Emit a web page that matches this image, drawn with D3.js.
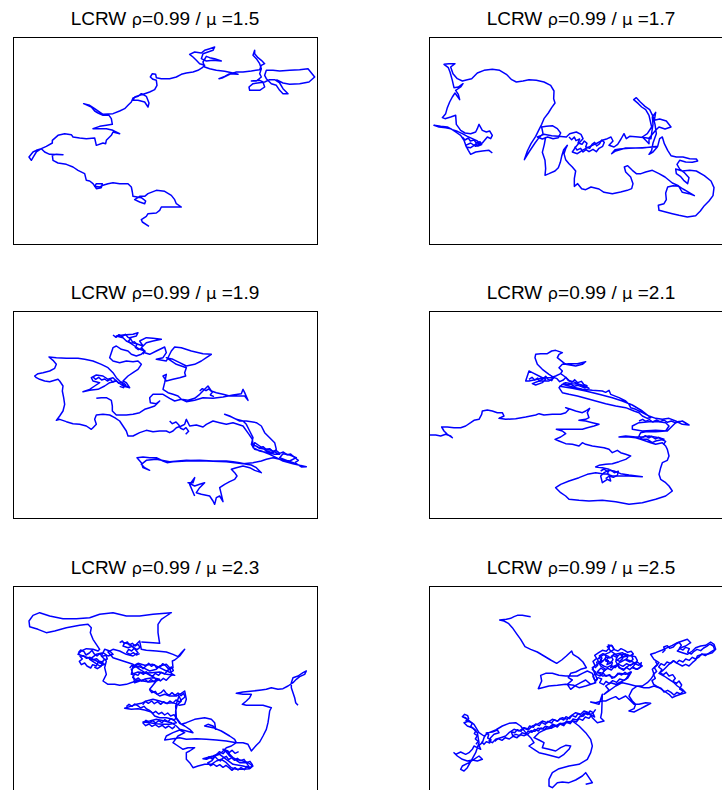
<!DOCTYPE html>
<html>
<head>
<meta charset="utf-8">
<script src="https://cdn.jsdelivr.net/npm/d3@7"></script>
<style>
  body { margin: 0; background: #fff; }
  svg { display: block; }
</style>
</head>
<body>
<svg id="chart" width="722" height="790"></svg>
<script>
// LCRW traces (units: 1/3 px inside each panel box)
const rho = 0.99;
const mus = [1.5, 1.7, 1.9, 2.1, 2.3, 2.5];

const walk15 = [[408,568],[388,555],[385,548],[400,538],[405,530],[430,528],[440,520],[445,510],[465,510],[505,510],[490,500],[485,488],[475,475],[455,463],[430,460],[405,470],[395,478],[380,478],[365,488],[380,495],[395,500],[398,492],[385,482],[360,478],[358,465],[355,450],[345,440],[320,440],[300,437],[285,440],[270,445],[260,450],[245,448],[250,440],[268,440],[265,452],[250,455],[240,440],[230,432],[220,430],[215,410],[195,400],[180,390],[160,382],[135,378],[120,370],[118,355],[130,352],[150,353],[110,352],[95,345],[85,335],[70,340],[60,345],[48,360],[55,370],[62,358],[70,345],[85,335],[100,328],[118,318],[118,310],[135,295],[155,290],[175,293],[180,300],[200,303],[220,305],[245,303],[250,325],[270,318],[278,320],[280,310],[295,295],[300,285],[320,290],[300,280],[280,275],[262,275],[240,275],[260,268],[280,265],[298,262],[295,245],[288,235],[270,235],[255,228],[245,222],[235,210],[212,200],[230,205],[245,215],[270,232],[300,230],[320,222],[335,215],[345,205],[355,195],[360,183],[375,178],[385,170],[400,178],[408,198],[405,210],[395,195],[375,190],[360,190],[365,180],[380,175],[395,170],[410,165],[425,158],[432,145],[430,130],[420,127],[412,120],[418,110],[428,112],[430,122],[445,125],[470,125],[490,120],[505,112],[520,108],[540,105],[555,100],[568,92],[575,85],[560,80],[550,70],[540,60],[530,52],[545,45],[565,48],[575,40],[590,35],[605,30],[600,40],[585,45],[570,50],[565,65],[580,72],[600,70],[625,72],[605,65],[590,62],[580,58],[570,75],[575,90],[590,95],[610,100],[635,103],[660,108],[675,112],[650,110],[635,118],[618,125],[630,122],[650,112],[670,105],[690,105],[715,102],[740,98],[745,85],[755,80],[745,70],[735,62],[725,50],[725,40],[720,55],[730,65],[740,80],[745,95],[740,110],[745,120],[730,132],[715,132],[740,130],[750,135],[755,150],[740,160],[710,160],[708,150],[720,140],[755,135],[770,128],[785,128],[800,138],[810,155],[825,170],[810,170],[800,160],[790,145],[775,140],[760,125],[755,115],[760,100],[780,100],[800,102],[830,100],[860,98],[885,95],[905,120],[888,135],[860,140],[830,142],[810,138],[790,128]];

const walk17 = [[190,348],[180,340],[160,342],[140,345],[125,352],[118,340],[110,325],[125,318],[140,328],[155,322],[145,312],[130,305],[115,298],[100,290],[85,283],[70,278],[55,270],[35,268],[15,265],[30,270],[50,272],[65,275],[80,285],[95,295],[105,310],[112,330],[125,332],[140,322],[160,318],[175,300],[185,305],[190,295],[182,282],[172,285],[160,280],[150,262],[145,275],[140,285],[125,290],[108,288],[95,280],[82,262],[80,235],[65,240],[48,245],[40,242],[50,230],[55,212],[62,195],[70,180],[78,168],[92,188],[88,172],[80,160],[95,150],[102,140],[88,150],[75,152],[70,130],[63,105],[58,92],[45,82],[60,80],[78,80],[65,90],[72,110],[85,125],[100,132],[115,128],[128,125],[145,108],[165,100],[190,97],[212,100],[232,112],[248,128],[262,135],[282,132],[300,128],[322,130],[345,135],[365,145],[375,162],[374,185],[378,198],[368,212],[358,228],[345,245],[338,262],[330,278],[320,298],[306,320],[295,342],[286,368],[300,345],[318,318],[330,302],[342,290],[338,270],[352,268],[370,266],[385,275],[395,288],[388,302],[372,305],[356,300],[340,306],[325,300],[345,292],[368,296],[388,298],[412,300],[422,290],[442,285],[456,292],[462,305],[450,318],[440,330],[430,345],[445,350],[460,340],[475,332],[490,325],[505,318],[520,310],[535,305],[546,300],[552,312],[540,325],[555,330],[566,322],[576,306],[585,290],[592,305],[602,298],[628,300],[650,302],[666,305],[668,288],[672,262],[670,240],[680,226],[676,250],[692,246],[712,252],[726,270],[708,276],[690,270],[680,280],[670,292],[660,304],[660,320],[650,310],[640,300],[655,290],[668,270],[660,235],[650,218],[638,210],[628,200],[614,188],[622,182],[634,195],[648,208],[662,218],[672,238],[678,262],[682,290],[672,318],[668,340],[660,352],[672,345],[685,330],[672,330],[640,332],[600,334],[572,336],[558,338],[548,350],[560,342],[590,333],[640,333],[686,328],[692,305],[700,300],[706,320],[716,340],[726,356],[742,360],[762,360],[782,365],[802,366],[806,372],[790,376],[770,375],[752,370],[744,382],[752,396],[765,406],[780,422],[776,440],[764,430],[754,418],[742,410],[740,396],[760,402],[782,400],[802,402],[826,416],[846,432],[855,452],[852,476],[840,492],[826,506],[814,522],[800,536],[775,540],[750,535],[730,530],[710,525],[690,520],[688,505],[705,500],[712,488],[710,468],[716,450],[732,446],[750,448],[762,456],[776,464],[796,476],[780,470],[760,466],[748,446],[730,438],[708,420],[690,410],[670,400],[650,405],[636,410],[622,410],[610,400],[596,386],[586,390],[590,405],[605,420],[612,440],[608,455],[595,460],[575,465],[550,470],[525,466],[510,456],[486,450],[470,458],[458,455],[446,440],[436,448],[436,425],[440,402],[430,390],[420,380],[410,368],[405,350],[410,335],[415,325],[404,338],[398,358],[394,376],[388,392],[378,402],[360,410],[348,415],[350,395],[348,370],[340,346],[346,322],[350,300]];

const walk19 = [[545,555],[530,520],[545,500],[540,515],[525,515],[545,525],[560,520],[575,515],[560,530],[550,545],[565,550],[590,555],[600,570],[605,580],[610,560],[620,555],[630,572],[625,550],[620,530],[635,520],[650,512],[665,505],[672,495],[665,485],[655,475],[670,470],[690,465],[710,470],[725,478],[745,485],[730,470],[715,462],[700,460],[680,455],[660,452],[640,450],[600,450],[560,448],[520,450],[480,452],[462,455],[450,450],[430,440],[410,440],[390,438],[372,440],[385,455],[390,470],[410,478],[395,470],[385,460],[400,448],[430,445],[470,452],[520,448],[580,450],[640,452],[690,458],[720,455],[745,450],[760,445],[780,440],[800,445],[830,450],[850,440],[830,432],[810,428],[800,440],[825,450],[850,458],[865,468],[880,467],[860,463],[840,458],[810,450],[790,440],[770,430],[745,420],[725,415],[715,400],[720,380],[710,360],[700,340],[690,330],[670,325],[650,315],[635,310],[660,320],[680,330],[700,330],[730,335],[745,345],[755,365],[770,380],[785,395],[790,415],[780,425],[760,420],[740,405],[725,395],[720,410],[740,420],[765,425],[785,430],[800,430],[775,418],[740,412],[720,400],[718,385],[708,370],[690,345],[660,335],[640,340],[620,335],[600,330],[580,340],[570,348],[550,342],[530,345],[520,325],[515,340],[505,345],[490,350],[480,360],[470,365],[460,360],[440,360],[420,362],[400,358],[380,365],[360,375],[345,375],[340,360],[330,345],[320,330],[305,320],[290,312],[270,310],[250,312],[245,325],[250,340],[240,350],[235,355],[220,345],[200,340],[180,338],[160,332],[140,325],[130,328],[140,315],[150,300],[155,280],[152,260],[148,240],[150,225],[140,210],[135,205],[110,212],[95,210],[80,205],[70,200],[65,195],[75,188],[90,185],[110,180],[125,172],[130,160],[120,148],[108,138],[130,140],[160,142],[195,142],[215,145],[240,150],[265,160],[285,170],[300,185],[310,200],[320,210],[330,220],[345,228],[330,225],[310,210],[300,200],[285,205],[270,195],[250,192],[235,200],[240,210],[260,215],[245,225],[230,235],[210,242],[230,238],[255,235],[275,225],[290,215],[310,210],[330,225],[350,230],[340,215],[330,210],[345,195],[360,185],[375,175],[385,160],[375,150],[360,152],[340,150],[320,155],[300,150],[290,140],[295,125],[300,110],[310,105],[325,115],[345,120],[355,130],[370,135],[385,130],[395,120],[380,115],[365,105],[350,95],[340,90],[330,80],[310,75],[330,72],[360,70],[375,65],[370,75],[350,80],[360,95],[375,100],[390,105],[380,90],[400,80],[420,82],[445,85],[420,90],[400,95],[385,110],[395,125],[410,130],[430,120],[455,108],[460,125],[450,140],[430,145],[460,150],[475,120],[485,108],[505,110],[535,120],[570,128],[595,130],[580,140],[565,150],[545,160],[520,165],[500,155],[480,145],[460,140],[490,160],[520,170],[515,185],[518,195],[500,200],[480,205],[460,210],[450,195],[460,190],[455,215],[450,235],[465,245],[480,250],[495,255],[505,265],[525,268],[545,262],[560,250],[575,235],[585,225],[595,240],[610,245],[630,250],[650,255],[670,255],[695,255],[705,268],[695,245],[690,235],[685,248],[660,252],[630,258],[600,262],[570,260],[545,268],[520,272],[505,265],[485,270],[470,262],[450,250],[420,250],[410,260],[412,275],[430,278],[440,270],[425,285],[410,290],[395,295],[380,305],[360,310],[340,312],[310,312],[298,300],[298,285],[295,268],[280,260],[265,260],[250,262]];

const walk21 = [[0,372],[20,372],[35,375],[50,370],[65,375],[70,380],[55,370],[45,360],[38,348],[55,348],[75,350],[95,350],[110,345],[125,335],[135,328],[150,325],[158,310],[160,300],[175,297],[190,300],[205,305],[220,305],[225,315],[210,322],[230,325],[260,323],[290,318],[320,312],[330,308],[345,312],[370,310],[395,310],[410,305],[420,295],[410,290],[425,295],[440,300],[460,305],[470,300],[482,292],[475,305],[480,320],[470,325],[450,328],[470,330],[490,335],[510,340],[495,345],[475,350],[460,355],[440,355],[420,355],[400,355],[382,355],[400,360],[410,368],[395,378],[378,385],[390,390],[410,398],[430,400],[450,405],[460,395],[470,400],[490,405],[510,408],[525,410],[540,415],[550,425],[565,418],[575,425],[590,430],[605,435],[590,445],[570,452],[550,458],[530,460],[510,463],[500,468],[520,470],[540,475],[535,490],[550,495],[570,495],[600,495],[640,497],[600,492],[575,488],[555,480],[540,478],[525,485],[515,495],[520,515],[535,505],[545,510],[540,490],[520,488],[500,485],[475,490],[450,500],[420,510],[395,520],[380,530],[395,545],[410,555],[420,565],[450,568],[480,570],[520,568],[560,572],[600,580],[640,575],[680,565],[710,555],[730,540],[720,525],[710,515],[695,505],[690,490],[695,470],[700,455],[715,448],[720,435],[715,415],[710,405],[700,395],[680,400],[665,395],[650,390],[635,385],[620,380],[600,378],[570,378],[590,375],[620,378],[640,378],[660,375],[690,380],[705,385],[680,390],[670,395],[655,385],[640,385],[630,375],[635,365],[650,362],[680,362],[710,360],[720,345],[710,335],[690,332],[660,332],[630,335],[610,345],[610,355],[640,360],[680,358],[715,360],[730,345],[740,335],[760,330],[780,342],[760,340],[740,330],[720,322],[700,325],[680,322],[660,315],[650,310],[640,305],[620,295],[605,290],[600,280],[590,270],[570,260],[545,250],[540,238],[530,244],[520,240],[490,238],[460,235],[440,230],[420,225],[400,220],[390,230],[400,245],[420,250],[445,255],[470,262],[500,270],[530,278],[560,285],[590,290],[615,300],[630,305],[640,315],[655,322],[665,320],[640,300],[610,282],[580,270],[550,260],[510,250],[470,240],[430,232],[392,226],[410,215],[430,218],[450,220],[470,225],[480,232],[460,225],[440,215],[420,208],[405,195],[395,188],[380,195],[365,200],[345,200],[325,205],[300,210],[290,210],[295,195],[300,180],[310,185],[330,195],[350,205],[340,215],[320,222],[310,218],[330,210],[360,210],[375,200],[360,190],[340,175],[325,160],[318,140],[320,130],[335,128],[355,128],[368,120],[380,118],[400,125],[390,130],[385,140],[395,148],[410,160],[440,165],[460,160],[470,152],[445,158],[420,158],[400,160],[390,170],[400,180],[395,188]];

const walk23 = [[385,168],[420,170],[440,172],[438,160],[435,140],[435,115],[445,100],[460,90],[475,80],[420,85],[380,90],[340,90],[300,80],[260,85],[230,95],[190,98],[150,98],[110,90],[80,80],[60,88],[48,105],[50,122],[75,130],[100,140],[125,135],[160,125],[200,118],[225,115],[235,125],[232,140],[240,160],[250,175],[260,190],[255,195],[240,190],[220,188],[205,195],[195,205],[210,210],[225,215],[245,222],[260,230],[275,235],[260,240],[245,230],[230,220],[250,205],[270,200],[285,210],[300,205],[290,195],[275,190],[265,210],[280,225],[275,245],[280,265],[270,285],[285,295],[305,295],[320,298],[340,295],[360,288],[375,282],[390,285],[410,288],[430,285],[440,280],[420,275],[400,278],[380,285],[365,290],[360,265],[355,250],[370,240],[390,245],[410,255],[430,250],[440,240],[460,235],[470,245],[475,262],[485,268],[460,265],[440,258],[415,260],[395,262],[375,258],[355,265],[360,240],[375,232],[395,238],[420,235],[440,245],[460,255],[480,245],[478,225],[485,222],[500,210],[515,190],[505,200],[495,212],[480,205],[460,198],[430,195],[400,193],[385,190],[380,165],[370,175],[360,180],[345,185],[330,180],[335,170],[350,175],[365,188],[375,200],[360,210],[340,205],[320,195],[300,190],[285,198],[300,215],[330,225],[360,235],[380,250],[400,262],[425,275],[430,285],[410,310],[425,320],[440,330],[455,325],[470,330],[490,330],[505,322],[515,315],[520,340],[515,355],[500,358],[480,350],[460,352],[440,345],[420,340],[400,345],[385,352],[370,355],[350,362],[335,367],[355,370],[375,368],[395,372],[415,378],[425,390],[440,395],[460,395],[480,400],[490,410],[470,415],[450,415],[430,413],[410,410],[390,408],[410,405],[430,400],[455,405],[475,410],[490,420],[500,430],[520,435],[540,440],[530,430],[515,420],[500,412],[488,395],[488,375],[492,358],[505,345],[498,330],[488,360],[490,395],[505,415],[520,410],[545,400],[575,395],[595,400],[605,410],[608,430],[600,420],[585,415],[575,420],[600,425],[625,435],[650,450],[665,460],[670,470],[640,465],[610,462],[580,460],[550,458],[520,460],[500,455],[470,460],[455,462],[460,450],[480,440],[500,432],[515,440],[495,450],[480,470],[495,480],[510,490],[525,485],[545,485],[530,495],[520,500],[520,520],[530,530],[540,545],[555,540],[575,535],[595,535],[610,525],[625,520],[640,530],[655,545],[670,550],[690,550],[710,548],[720,540],[705,530],[690,525],[670,520],[650,510],[640,498],[630,490],[645,495],[650,505],[665,520],[680,530],[700,530],[710,545],[690,540],[660,535],[640,520],[620,505],[600,512],[580,520],[570,518],[600,510],[625,500],[640,485],[655,480],[670,470],[690,470],[705,475],[710,485],[715,495],[730,478],[740,468],[750,450],[760,430],[765,410],[768,390],[770,375],[775,365],[750,358],[720,358],[700,358],[688,355],[700,345],[710,335],[715,325],[690,325],[670,322],[690,318],[720,315],[745,312],[760,310],[775,305],[795,310],[810,308],[825,300],[840,290],[850,280],[860,272],[875,265],[880,255],[870,260],[855,270],[840,275],[835,290],[835,305],[840,320],[845,335],[848,350],[855,358]];

const walk25 = [[305,92],[292,90],[280,88],[265,88],[255,92],[245,97],[232,100],[212,102],[225,105],[238,112],[250,125],[262,142],[275,160],[288,182],[305,190],[325,198],[345,210],[365,222],[383,232],[398,222],[412,210],[428,195],[432,205],[448,215],[462,228],[472,245],[455,250],[440,258],[425,262],[418,275],[430,282],[415,295],[425,310],[440,298],[455,290],[470,282],[485,295],[500,290],[490,262],[475,255],[460,262],[445,270],[410,270],[390,268],[370,262],[350,262],[335,268],[338,285],[328,308],[340,305],[360,300],[385,298],[410,295],[435,298],[450,305],[470,300],[495,292],[505,280],[490,245],[505,235],[520,225],[510,215],[525,205],[540,212],[530,225],[550,230],[545,245],[560,238],[575,228],[590,220],[605,225],[620,232],[610,245],[625,250],[640,240],[625,228],[600,238],[585,250],[570,245],[560,225],[575,215],[595,210],[580,200],[560,205],[545,195],[535,182],[548,178],[555,190],[540,200],[520,208],[505,220],[515,240],[530,250],[520,262],[505,258],[520,270],[540,268],[555,275],[570,262],[590,265],[605,258],[590,280],[575,288],[560,295],[545,290],[530,300],[540,312],[525,325],[560,300],[580,290],[600,295],[620,300],[640,300],[655,290],[665,280],[675,265],[670,250],[680,240],[690,230],[675,220],[665,205],[680,200],[700,192],[715,185],[730,178],[745,170],[760,165],[775,160],[785,170],[770,180],[755,185],[745,195],[760,200],[775,205],[790,195],[800,185],[815,180],[830,178],[845,168],[855,175],[860,190],[850,200],[835,205],[820,205],[805,210],[800,222],[790,230],[780,240],[770,235],[760,240],[745,232],[735,225],[720,235],[710,245],[700,255],[690,262],[705,270],[720,280],[735,290],[745,300],[760,310],[770,320],[755,325],[740,330],[730,335],[720,325],[705,315],[690,305],[675,300],[660,305],[645,305],[625,300],[610,310],[600,330],[610,345],[620,355],[615,368],[600,375],[615,378],[635,368],[650,360],[665,352],[650,350],[630,355],[615,355],[600,340],[590,330],[570,340],[560,332],[545,338],[530,345],[518,345],[500,350],[485,348],[510,355],[520,325],[518,380],[515,395],[525,405],[505,410],[490,395],[480,380],[465,375],[455,385],[440,380],[425,390],[415,400],[400,395],[385,405],[370,400],[355,410],[340,405],[325,415],[310,420],[300,430],[285,425],[270,435],[255,430],[240,440],[230,450],[215,455],[200,460],[190,470],[180,465],[185,455],[195,445],[210,440],[205,432],[190,438],[175,440],[165,455],[160,470],[150,478],[155,490],[145,485],[135,480],[130,490],[120,500],[110,505],[95,498],[80,505],[75,500],[85,510],[100,520],[115,525],[130,522],[145,525],[160,520],[150,510],[120,530],[100,540],[95,550],[105,555],[115,545],[140,500],[150,470],[145,440],[130,425],[115,420],[105,410],[120,405],[110,395],[100,392],[115,400],[135,415],[150,440],[165,450],[180,440],[200,432],[220,420],[240,412],[260,410],[275,420],[290,440],[305,455],[315,470],[300,480],[315,490],[330,500],[350,505],[370,510],[390,515],[405,505],[420,490],[425,480],[410,478],[395,485],[380,495],[360,490],[340,485],[345,470],[330,462],[315,455],[330,440],[350,430],[370,425],[390,415],[410,410],[430,405],[450,420],[470,440],[485,460],[490,480],[485,500],[475,520],[450,535],[420,540],[390,548],[370,560],[360,580],[360,600],[370,605],[385,590],[400,588],[420,590],[440,582],[460,570],[470,560],[480,575],[490,590],[470,595]];

// dense tangles inside the clusters, same units
const knots17 = [
  [[420,300],[428,308],[436,300],[441,311],[452,306],[447,318],[459,322],[466,312],[474,319],[470,330],[482,334],[489,322],[497,316],[503,327],[512,320],[518,309],[526,316],[521,328],[510,334],[502,344],[492,337],[480,344],[471,338],[462,345],[455,334],[444,339],[437,329]],
  [[100,300],[108,309],[118,303],[124,312],[135,309],[142,318],[153,314],[158,323],[147,327],[137,321]]
];
const knots19 = [
  [[300,72],[309,79],[318,71],[327,77],[337,70],[345,79],[353,83],[346,91],[355,97],[364,92],[372,100],[367,109],[376,116],[387,112],[396,121],[389,130]],
  [[240,198],[248,205],[257,199],[266,207],[275,204],[283,210],[292,205],[299,213],[309,208],[317,217],[327,213],[338,221],[331,230],[320,226]],
  [[470,330],[478,338],[489,333],[497,341],[502,351],[511,356],[519,350],[527,361],[518,370]],
  [[730,405],[739,411],[750,407],[759,415],[770,413],[779,421],[790,419],[800,427],[811,423],[822,431],[833,429],[843,438],[856,448],[846,455]],
  [[560,240],[568,233],[579,239],[587,234],[598,243],[592,252],[603,257]]
];
const knots21 = [
  [[300,205],[309,199],[317,207],[326,201],[331,210],[342,204],[350,196],[357,205],[368,209],[374,199],[384,203],[392,212],[403,207],[411,199],[418,209],[429,214],[437,206],[446,215],[457,211],[464,220],[474,224],[468,231],[457,227],[447,223],[436,226],[425,219],[414,222],[403,216]],
  [[630,330],[641,325],[650,331],[661,326],[671,333],[683,327],[693,332],[705,327],[715,334],[727,330],[738,335],[752,331]],
  [[640,380],[649,374],[659,381],[668,376],[679,384],[689,379],[699,386],[710,391],[703,401]],
  [[515,480],[525,474],[534,481],[545,477],[556,485],[568,481],[565,493],[553,499],[541,495],[530,503]]
];
const knots23 = [
  [[196,200],[203,192],[213,197],[219,207],[229,201],[237,193],[243,203],[252,210],[260,203],[268,211],[279,208],[283,219],[272,222],[266,232],[255,229],[250,240],[239,236],[233,246],[222,240],[215,231],[205,236],[199,226],[208,219],[201,211],[212,209],[220,217],[231,214],[240,221],[251,218],[259,226],[270,228],[264,241],[253,248],[244,243]],
  [[320,170],[328,165],[334,173],[343,168],[349,177],[358,172],[366,180],[375,175],[381,184],[372,191],[364,186],[356,195],[347,190],[341,200],[352,205],[361,200],[370,207],[380,203]],
  [[350,246],[357,238],[366,243],[373,234],[383,239],[390,248],[399,240],[407,232],[415,241],[424,236],[431,246],[442,242],[449,233],[458,239],[466,248],[476,243],[481,254],[472,260],[463,255],[455,264],[445,259],[437,268],[427,262],[419,271],[408,265],[400,257],[391,265],[382,259],[375,268],[365,264],[359,274],[368,281],[376,276],[385,285],[396,280],[405,288],[414,281],[423,287],[433,279],[442,285],[451,277],[460,283],[469,273],[478,266]],
  [[410,312],[417,320],[427,316],[433,325],[444,320],[452,312],[459,321],[468,328],[477,320],[486,328],[495,321],[504,329],[512,322],[516,333],[507,340],[499,348],[489,342],[480,351],[471,345],[462,353],[452,347],[443,355],[434,347],[424,353],[416,345],[406,352],[397,346],[389,356]],
  [[340,362],[348,355],[357,361],[365,354],[374,359],[383,366],[393,361],[401,369],[411,374],[419,382],[428,376],[437,384],[446,379],[455,387],[464,381],[473,390],[483,386],[490,396],[482,403],[473,398],[465,407],[455,401],[447,410],[437,404],[428,411],[419,404],[409,410],[399,403],[390,411],[398,419],[408,414],[417,421],[427,416],[437,423],[448,418],[457,426],[467,420],[478,428],[486,421]],
  [[580,520],[588,512],[597,519],[605,511],[613,519],[622,525],[630,516],[640,511],[647,521],[656,515],[664,523],[673,517],[682,524],[693,520],[700,530],[711,526],[718,536],[712,546],[702,541],[694,551],[684,545],[675,552],[666,545],[657,553],[648,545],[639,538],[630,544],[620,536],[611,541],[601,534],[593,539],[584,531],[597,524],[610,506],[619,497],[630,503],[638,494],[648,500],[657,493],[666,502],[677,497]]
];
const knots25 = [
  [[498,246],[506,238],[503,229],[514,226],[519,216],[511,210],[522,203],[531,209],[528,220],[538,224],[534,236],[545,231],[552,221],[547,211],[556,204],[566,210],[561,221],[572,226],[581,218],[576,207],[588,203],[597,211],[591,222],[603,228],[612,220],[608,209],[619,212],[625,224],[617,233],[629,238],[637,230],[633,244],[622,250],[611,243],[602,251],[592,244],[584,253],[574,247],[566,238],[555,243],[547,252],[536,247],[526,254],[516,246],[508,254],[502,265],[513,270],[523,262],[531,271],[542,266],[549,277],[560,271],[567,262],[578,267],[588,259],[598,266],[607,258],[596,276],[584,283],[572,279],[563,289],[551,284],[541,293],[531,286],[524,296],[512,290],[518,279],[507,275],[498,284],[492,272],[500,258],[490,250],[498,238],[492,226],[503,217],[497,208],[509,200],[520,193],[532,196],[541,186],[538,177],[550,180],[556,191],[567,195],[576,188],[587,193],[596,199],[607,196],[613,204],[603,210],[594,205],[584,212],[573,204],[563,214],[553,209],[543,216],[532,213],[523,224],[513,233],[524,240],[535,244],[546,238],[558,245],[569,235],[582,241],[593,233],[604,239],[616,231],[626,236]],
  [[700,200],[708,192],[704,183],[715,179],[722,187],[733,183],[741,174],[750,169],[757,178],[751,187],[762,192],[770,184],[781,188],[776,199],[787,204],[795,196],[804,190],[815,194],[824,186],[833,181],[843,174],[853,180],[857,191],[847,197],[838,203],[829,209],[818,204],[810,213],[799,219],[790,214],[781,223],[770,219],[762,228],[751,223],[742,231],[733,224],[724,232],[714,228],[706,238],[696,233],[689,243],[699,251],[692,260],[703,266],[712,259],[720,270],[731,266],[739,277],[732,286],[743,292],[750,285],[758,297],[752,309],[763,315],[754,324],[744,319],[735,327],[726,319],[716,313],[705,318],[697,307],[685,302],[674,295],[669,284],[679,277],[673,265],[683,256],[676,245],[686,236],[679,226]],
  [[500,370],[493,380],[483,375],[476,386],[465,381],[457,389],[447,383],[440,393],[429,388],[422,398],[411,392],[404,402],[394,397],[386,406],[375,401],[368,411],[357,406],[349,415],[338,409],[331,419],[320,414],[313,424],[302,420],[295,431],[284,426],[276,436],[265,431],[257,440],[247,437],[251,449],[261,445],[272,449],[279,440],[290,444],[298,435],[309,439],[317,430],[328,435],[336,426],[347,431],[355,422],[366,427],[374,418],[385,423],[393,414],[404,419],[412,409],[423,413],[431,404],[442,408],[450,398],[461,403],[469,393],[480,397],[488,388],[497,393],[492,382],[481,386],[472,379],[463,390],[452,392],[444,402],[432,399],[425,410],[413,405],[405,415],[393,412],[383,419],[371,415],[361,424],[349,421],[340,429],[327,427],[318,436],[306,434],[297,444],[286,449],[274,446],[264,455],[252,451],[241,459],[229,455],[219,463],[207,458],[197,466]],
  [[100,392],[107,385],[116,389],[119,398],[111,404],[121,407],[130,412],[125,421],[133,427],[141,434],[136,443],[145,449],[139,459],[148,466],[141,475]],
  [[170,440],[179,446],[176,456],[186,461],[182,471],[172,467],[165,475],[157,467]]
];

const walks = [walk15, walk17, walk19, walk21, walk23, walk25];
const knots = [[], knots17, knots19, knots21, knots23, knots25];

// panel grid
const colX = [13, 429];
const rowY = [37, 311, 586];
const boxW = 304, boxH = 207;

const svg = d3.select("#chart");

walks.forEach((walk, i) => {
  const x0 = colX[i % 2];
  const y0 = rowY[Math.floor(i / 2)];

  const x = d3.scaleLinear().domain([0, 915]).range([x0, x0 + 305]);
  const y = d3.scaleLinear().domain([0, 624]).range([y0, y0 + 208]);

  const g = svg.append("g");

  g.append("clipPath")
    .attr("id", "clip" + i)
    .append("rect")
    .attr("x", x0).attr("y", y0)
    .attr("width", boxW).attr("height", boxH);

  const line = d3.line()
    .x((d) => x(d[0]))
    .y((d) => y(d[1]));

  g.append("g")
    .attr("clip-path", `url(#clip${i})`)
    .selectAll("path")
    .data([walk, ...knots[i]])
    .enter()
    .append("path")
    .attr("d", (d) => line(d))
    .attr("fill", "none")
    .attr("stroke", "#0000ff")
    .attr("stroke-width", 1.5)
    .attr("stroke-linejoin", "round");

  // box
  g.append("rect")
    .attr("x", x0 + 0.5).attr("y", y0 + 0.5)
    .attr("width", boxW).attr("height", boxH)
    .attr("fill", "none")
    .attr("stroke", "#000")
    .attr("stroke-width", 1);

  // title
  const t = g.append("text")
    .attr("x", x0 + boxW / 2)
    .attr("y", y0 - 12)
    .attr("text-anchor", "middle")
    .attr("font-family", "'Liberation Sans', Arial, sans-serif")
    .attr("font-size", "19px")
    .attr("fill", "#000");
  t.append("tspan").text("LCRW ");
  t.append("tspan").attr("font-family", "'DejaVu Sans', sans-serif").attr("font-size", "16.5px").text("ρ");
  t.append("tspan").text("=" + rho + " / ");
  t.append("tspan").attr("font-family", "'DejaVu Sans', sans-serif").attr("font-size", "16.5px").text("μ");
  t.append("tspan").text(" =" + mus[i]);
});
</script>
</body>
</html>
